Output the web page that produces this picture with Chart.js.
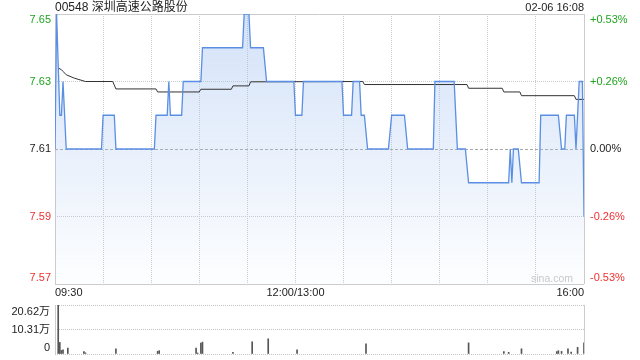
<!DOCTYPE html>
<html>
<head>
<meta charset="utf-8">
<script src="https://cdn.jsdelivr.net/npm/chart.js@4.4.1/dist/chart.umd.min.js"></script>
<style>
  body { margin: 0; background: #fff; width: 640px; height: 360px; position: relative; overflow: hidden;
         font-family: "Liberation Sans", Arial, "Noto Sans CJK SC", sans-serif; }
  #priceChart { position: absolute; left: 0; top: 0; }
  #volChart { position: absolute; left: 0; top: 300px; }
  .title { position: absolute; left: 55px; top: 0; font-size: 12px; line-height: 14px; color: #222; }
  .stamp { position: absolute; right: 56px; top: 1px; font-size: 11px; line-height: 13px; color: #222; }
  .mark { position: absolute; right: 67px; top: 272px; font-size: 10.5px; line-height: 12px; color: #c8c8c8; }
</style>
</head>
<body>
<canvas id="priceChart" width="640" height="300"></canvas>
<canvas id="volChart" width="640" height="60"></canvas>
<div class="title">00548 深圳高速公路股份</div>
<div class="stamp">02-06 16:08</div>
<div class="mark">sina.com</div>
<script>
// Minutes after 09:30 (lunch break removed, 330 = 16:00)
const priceTimes = [0, 1, 3, 4, 5, 7, 29, 30, 37, 38, 62, 63, 70, 71, 72, 79, 80, 91, 92,
  117, 118, 121, 122, 130, 132, 149, 150, 154, 155, 179, 180, 185, 186, 190, 191, 193, 195,
  208, 210, 218, 220, 236, 237, 249, 251, 256, 258, 283, 284, 285, 286, 289, 291, 302, 303,
  314, 316, 318, 319, 324, 325, 327, 329, 330];
const prices = [7.61, 7.65, 7.62, 7.62, 7.63, 7.61, 7.61, 7.62, 7.62, 7.61, 7.61, 7.62, 7.62, 7.63, 7.62, 7.62, 7.63, 7.63, 7.64,
  7.64, 7.65, 7.65, 7.64, 7.64, 7.63, 7.63, 7.62, 7.62, 7.63, 7.63, 7.62, 7.62, 7.63, 7.63, 7.62, 7.62, 7.61,
  7.61, 7.62, 7.62, 7.61, 7.61, 7.63, 7.63, 7.61, 7.61, 7.60, 7.60, 7.61, 7.60, 7.61, 7.61, 7.60, 7.60, 7.62,
  7.62, 7.61, 7.61, 7.62, 7.62, 7.61, 7.63, 7.63, 7.59];

// average price line
const avgTimes = [2, 4, 5, 7, 12, 19, 36, 38, 63, 64, 90, 91, 110, 111, 121, 122, 192, 193,
  257, 258, 279, 280, 290, 291, 324, 325, 330];
const avgPrices = [7.634, 7.6335, 7.633, 7.632, 7.631, 7.630, 7.630, 7.6278, 7.6278, 7.6269, 7.6269, 7.6277, 7.6277, 7.6287, 7.6287, 7.6299, 7.630, 7.6291,
  7.6291, 7.628, 7.628, 7.6269, 7.6269, 7.6258, 7.6258, 7.6247, 7.6247];

// volume (shares)
const volTimes = [2, 3, 4, 5, 8, 18, 19, 38, 64, 65, 88, 89, 91, 92, 111, 123, 133, 151,
  194, 258, 280, 283, 291, 313, 314, 316, 320, 322, 326, 330];
const volumes = [206200, 48700, 15000, 18000, 25000, 10000, 5000, 22000, 11000, 14000, 25000, 4000, 46000, 50000, 7000, 51500, 64000, 18000,
  43000, 47000, 10000, 7000, 22000, 10000, 14000, 11000, 22000, 8000, 28000, 47000];

const prevClose = 7.61;
const priceTicks = [7.57, 7.59, 7.61, 7.63, 7.65];
const priceLabels = ['7.57', '7.59', '7.61', '7.63', '7.65'];
const pctLabels = ['-0.53%', '-0.26%', '0.00%', '+0.26%', '+0.53%'];
const timeTicks = [0, 30, 60, 90, 120, 150, 180, 210, 240, 270, 300, 330];
const timeLabels = ['09:30', '12:00/13:00', '16:00'];
const timeLabelAt = [0, 150, 330];
const volTicks = [0, 103100, 206200];
const volLabels = ['0', '10.31万', '20.62万'];

const upColor = '#1fa51f';
const downColor = '#f03030';
const textColor = '#222';
const labelFont = '11px "Liberation Sans", Arial, "Noto Sans CJK SC", sans-serif';

const isClose = v => Math.abs(v - prevClose) < 1e-6;

// Axis texts for the price chart
const priceText = {
  id: 'priceText',
  afterDraw(chart) {
    const { ctx, chartArea, scales } = chart;
    ctx.save();
    ctx.font = labelFont;
    ctx.textBaseline = 'middle';
    priceTicks.forEach((v, i) => {
      let y = scales.y.getPixelForValue(v);
      if (i === 0) y -= 6;
      if (i === priceTicks.length - 1) y += 6;
      ctx.fillStyle = isClose(v) ? textColor : (v > prevClose ? upColor : downColor);
      ctx.textAlign = 'right';
      ctx.fillText(priceLabels[i], chartArea.left - 4, y);
      ctx.textAlign = 'left';
      ctx.fillText(pctLabels[i], chartArea.right + 6, y);
    });
    ctx.fillStyle = textColor;
    const aligns = ['left', 'center', 'right'];
    timeLabelAt.forEach((t, i) => {
      ctx.textAlign = aligns[i];
      ctx.fillText(timeLabels[i], scales.x.getPixelForValue(t), chartArea.bottom + 9);
    });
    ctx.restore();
  }
};

const volText = {
  id: 'volText',
  afterDraw(chart) {
    const { ctx, chartArea, scales } = chart;
    ctx.save();
    ctx.font = labelFont;
    ctx.textBaseline = 'middle';
    ctx.textAlign = 'right';
    ctx.fillStyle = textColor;
    volTicks.forEach((v, i) => {
      let y = scales.y.getPixelForValue(v);
      if (i === 0) y -= 6;
      if (i === volTicks.length - 1) y += 7;
      ctx.fillText(volLabels[i], chartArea.left - 5, y);
    });
    ctx.restore();
  }
};

const priceData = priceTimes.map((t, i) => ({ x: t, y: prices[i] }));
const avgData = avgTimes.map((t, i) => ({ x: t, y: avgPrices[i] }));
const volData = volTimes.map((t, i) => ({ x: t, y: volumes[i] }));

new Chart(document.getElementById('priceChart'), {
  type: 'line',
  data: {
    datasets: [{
      data: priceData,
      borderColor: '#5a8fe3',
      borderWidth: 1.3,
      pointRadius: 0,
      tension: 0,
      fill: 'start',
      backgroundColor: function(context) {
        const area = context.chart.chartArea;
        if (!area) return 'rgba(0,0,0,0)';
        const g = context.chart.ctx.createLinearGradient(0, area.top, 0, area.bottom);
        g.addColorStop(0, 'rgba(160,192,240,0.46)');
        g.addColorStop(1, 'rgba(160,192,240,0.02)');
        return g;
      }
    }, {
      data: avgData,
      borderColor: '#333',
      borderWidth: 1,
      pointRadius: 0,
      tension: 0,
      fill: false
    }]
  },
  options: {
    responsive: false,
    animation: false,
    events: [],
    layout: { padding: { top: 14, right: 56, left: 0, bottom: 0 } },
    scales: {
      x: {
        type: 'linear',
        min: 0,
        max: 330,
        afterBuildTicks: s => { s.ticks = timeTicks.map(v => ({ value: v })); },
        afterFit: s => { s.height = 16; },
        ticks: { display: false },
        grid: { drawTicks: false, color: '#ccc', lineWidth: 1 },
        border: {
          display: false,
          dash: c => (c.tick && c.tick.value !== 0 && c.tick.value !== 330) ? [1, 1] : []
        }
      },
      y: {
        min: 7.57,
        max: 7.65,
        afterBuildTicks: s => { s.ticks = priceTicks.map(v => ({ value: v })); },
        afterFit: s => { s.width = 55; },
        ticks: { display: false },
        grid: {
          drawTicks: false,
          lineWidth: 1,
          color: c => (c.tick && isClose(c.tick.value)) ? '#a8a8a8' : '#ccc'
        },
        border: {
          display: false,
          dash: c => {
            if (!c.tick) return [];
            const v = c.tick.value;
            if (isClose(v)) return [3, 2];
            if (v === priceTicks[0] || v === priceTicks[priceTicks.length - 1]) return [];
            return [1, 1];
          }
        }
      }
    },
    plugins: {
      legend: { display: false },
      tooltip: { enabled: false },
      filler: { drawTime: 'beforeDatasetsDraw' }
    }
  },
  plugins: [priceText]
});

new Chart(document.getElementById('volChart'), {
  type: 'bar',
  data: {
    datasets: [{
      data: volData,
      backgroundColor: '#555',
      barThickness: 1,
      borderWidth: 0
    }]
  },
  options: {
    responsive: false,
    animation: false,
    events: [],
    layout: { padding: { top: 5, right: 56, left: 0, bottom: 0 } },
    scales: {
      x: {
        type: 'linear',
        min: 0,
        max: 330,
        offset: false,
        afterBuildTicks: s => { s.ticks = [{ value: 0 }, { value: 330 }]; },
        afterFit: s => { s.height = 6; },
        ticks: { display: false },
        grid: { drawTicks: false, offset: false, color: '#ccc', lineWidth: 1 },
        border: { display: false }
      },
      y: {
        min: 0,
        max: 206200,
        afterBuildTicks: s => { s.ticks = volTicks.map(v => ({ value: v })); },
        afterFit: s => { s.width = 55; },
        ticks: { display: false },
        grid: { drawTicks: false, color: '#c4c4c4', lineWidth: 1 },
        border: { display: false, dash: [1, 1] }
      }
    },
    plugins: {
      legend: { display: false },
      tooltip: { enabled: false }
    }
  },
  plugins: [volText]
});
</script>
</body>
</html>
